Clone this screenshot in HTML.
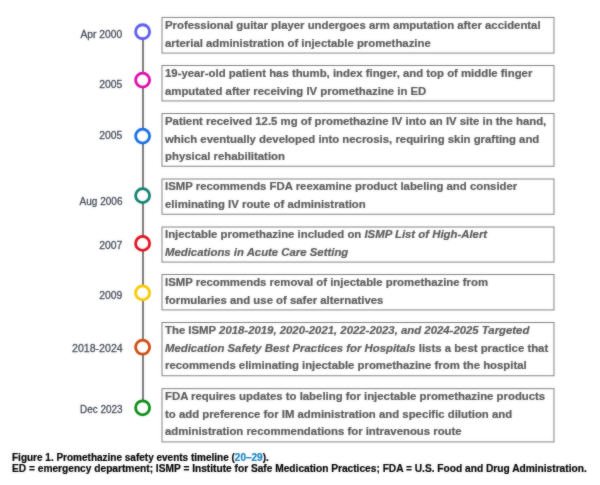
<!DOCTYPE html>
<html><head><meta charset="utf-8"><style>
html,body{margin:0;padding:0;background:#fff;}
body{width:600px;height:485px;position:relative;overflow:hidden;font-family:"Liberation Sans",sans-serif;}
.w{position:absolute;left:0;top:0;width:600px;height:485px;will-change:transform;}
.bg{position:absolute;left:0;top:0;width:600px;height:485px;background:#fff;}
.bl{filter:blur(1px);opacity:0.4;}
.t{position:absolute;left:165px;font-size:11.37px;line-height:17.4px;font-weight:bold;color:#585858;white-space:nowrap;-webkit-text-stroke:0.2px #585858;}
.d{position:absolute;right:477.6px;transform-origin:100% 50%;font-size:10.4px;line-height:13px;color:#474d5a;white-space:nowrap;-webkit-text-stroke:0.3px #474d5a;}
.cap{position:absolute;left:12px;line-height:11px;font-weight:bold;color:#000;white-space:nowrap;-webkit-text-stroke:0.2px #000;}
.cap span{color:#1780c0;-webkit-text-stroke:0.2px #1780c0;}
</style></head><body>
<div class="w"><svg width="600" height="485" style="position:absolute;left:0;top:0"><rect x="142" y="38" width="2" height="364" fill="#7a7a7a"/><g fill="none" stroke="#808080" stroke-width="1"><rect x="162.0" y="17.42" width="391.97" height="35.67"/><rect x="162.0" y="65.49" width="391.97" height="35.45"/><rect x="162.0" y="113.5" width="391.97" height="52.75"/><rect x="162.0" y="179.0" width="391.97" height="35.25"/><rect x="162.0" y="227.0" width="391.97" height="35.09"/><rect x="162.0" y="274.5" width="391.97" height="35.43"/><rect x="162.0" y="322.5" width="391.97" height="53.25"/><rect x="162.0" y="388.65" width="391.97" height="53.26"/></g><g fill="#fff" stroke-width="2.8"><circle cx="142.6" cy="31.76" r="7" stroke="#5a5af0"/><circle cx="142.6" cy="80.1" r="7" stroke="#dc0aaa"/><circle cx="142.6" cy="136.1" r="7" stroke="#146ee6"/><circle cx="142.6" cy="195.6" r="7" stroke="#10806e"/><circle cx="142.6" cy="243.4" r="7" stroke="#e10f1e"/><circle cx="142.6" cy="292.9" r="7" stroke="#fac800"/><circle cx="142.6" cy="347.2" r="7" stroke="#cd4b0f"/><circle cx="142.6" cy="407.8" r="7" stroke="#0a8c14"/></g></svg><div class="t" style="top:17.40px">Professional guitar player undergoes arm amputation after accidental<br>arterial administration of injectable promethazine</div><div class="d" style="top:27.70px;transform:scaleX(0.99)">Apr 2000</div><div class="t" style="top:65.40px">19-year-old patient has thumb, index finger, and top of middle finger<br>amputated after receiving IV promethazine in ED</div><div class="d" style="top:78.20px;transform:scaleX(1.0)">2005</div><div class="t" style="top:113.40px">Patient received 12.5 mg of promethazine IV into an IV site in the hand,<br>which eventually developed into necrosis, requiring skin grafting and<br>physical rehabilitation</div><div class="d" style="top:129.20px;transform:scaleX(1.0)">2005</div><div class="t" style="top:178.40px">ISMP recommends FDA reexamine product labeling and consider<br>eliminating IV route of administration</div><div class="d" style="top:194.90px;transform:scaleX(0.964)">Aug 2006</div><div class="t" style="top:226.40px">Injectable promethazine included on <i>ISMP List of High-Alert<br>Medications in Acute Care Setting</i></div><div class="d" style="top:239.30px;transform:scaleX(1.0)">2007</div><div class="t" style="top:274.40px">ISMP recommends removal of injectable promethazine from<br>formularies and use of safer alternatives</div><div class="d" style="top:288.90px;transform:scaleX(1.0)">2009</div><div class="t" style="top:322.40px">The ISMP <i>2018-2019, 2020-2021, 2022-2023, and 2024-2025 Targeted<br>Medication Safety Best Practices for Hospitals</i> lists a best practice that<br>recommends eliminating injectable promethazine from the hospital</div><div class="d" style="top:341.80px;transform:scaleX(1.02)">2018-2024</div><div class="t" style="top:388.40px">FDA requires updates to labeling for injectable promethazine products<br>to add preference for IM administration and specific dilution and<br>administration recommendations for intravenous route</div><div class="d" style="top:402.50px;transform:scaleX(0.956)">Dec 2023</div><div class="cap" style="top:452px;font-size:10px">Figure 1. Promethazine safety events timeline (<span>20–29</span>).</div><div class="cap" style="top:463px;font-size:10.18px">ED = emergency department; ISMP = Institute for Safe Medication Practices; FDA = U.S. Food and Drug Administration.</div></div><div class="w bl"><div class="bg"></div><svg width="600" height="485" style="position:absolute;left:0;top:0"><rect x="142" y="38" width="2" height="364" fill="#7a7a7a"/><g fill="none" stroke="#808080" stroke-width="1"><rect x="162.0" y="17.42" width="391.97" height="35.67"/><rect x="162.0" y="65.49" width="391.97" height="35.45"/><rect x="162.0" y="113.5" width="391.97" height="52.75"/><rect x="162.0" y="179.0" width="391.97" height="35.25"/><rect x="162.0" y="227.0" width="391.97" height="35.09"/><rect x="162.0" y="274.5" width="391.97" height="35.43"/><rect x="162.0" y="322.5" width="391.97" height="53.25"/><rect x="162.0" y="388.65" width="391.97" height="53.26"/></g><g fill="#fff" stroke-width="2.8"><circle cx="142.6" cy="31.76" r="7" stroke="#5a5af0"/><circle cx="142.6" cy="80.1" r="7" stroke="#dc0aaa"/><circle cx="142.6" cy="136.1" r="7" stroke="#146ee6"/><circle cx="142.6" cy="195.6" r="7" stroke="#10806e"/><circle cx="142.6" cy="243.4" r="7" stroke="#e10f1e"/><circle cx="142.6" cy="292.9" r="7" stroke="#fac800"/><circle cx="142.6" cy="347.2" r="7" stroke="#cd4b0f"/><circle cx="142.6" cy="407.8" r="7" stroke="#0a8c14"/></g></svg><div class="t" style="top:17.40px">Professional guitar player undergoes arm amputation after accidental<br>arterial administration of injectable promethazine</div><div class="d" style="top:27.70px;transform:scaleX(0.99)">Apr 2000</div><div class="t" style="top:65.40px">19-year-old patient has thumb, index finger, and top of middle finger<br>amputated after receiving IV promethazine in ED</div><div class="d" style="top:78.20px;transform:scaleX(1.0)">2005</div><div class="t" style="top:113.40px">Patient received 12.5 mg of promethazine IV into an IV site in the hand,<br>which eventually developed into necrosis, requiring skin grafting and<br>physical rehabilitation</div><div class="d" style="top:129.20px;transform:scaleX(1.0)">2005</div><div class="t" style="top:178.40px">ISMP recommends FDA reexamine product labeling and consider<br>eliminating IV route of administration</div><div class="d" style="top:194.90px;transform:scaleX(0.964)">Aug 2006</div><div class="t" style="top:226.40px">Injectable promethazine included on <i>ISMP List of High-Alert<br>Medications in Acute Care Setting</i></div><div class="d" style="top:239.30px;transform:scaleX(1.0)">2007</div><div class="t" style="top:274.40px">ISMP recommends removal of injectable promethazine from<br>formularies and use of safer alternatives</div><div class="d" style="top:288.90px;transform:scaleX(1.0)">2009</div><div class="t" style="top:322.40px">The ISMP <i>2018-2019, 2020-2021, 2022-2023, and 2024-2025 Targeted<br>Medication Safety Best Practices for Hospitals</i> lists a best practice that<br>recommends eliminating injectable promethazine from the hospital</div><div class="d" style="top:341.80px;transform:scaleX(1.02)">2018-2024</div><div class="t" style="top:388.40px">FDA requires updates to labeling for injectable promethazine products<br>to add preference for IM administration and specific dilution and<br>administration recommendations for intravenous route</div><div class="d" style="top:402.50px;transform:scaleX(0.956)">Dec 2023</div><div class="cap" style="top:452px;font-size:10px">Figure 1. Promethazine safety events timeline (<span>20–29</span>).</div><div class="cap" style="top:463px;font-size:10.18px">ED = emergency department; ISMP = Institute for Safe Medication Practices; FDA = U.S. Food and Drug Administration.</div></div>
</body></html>
